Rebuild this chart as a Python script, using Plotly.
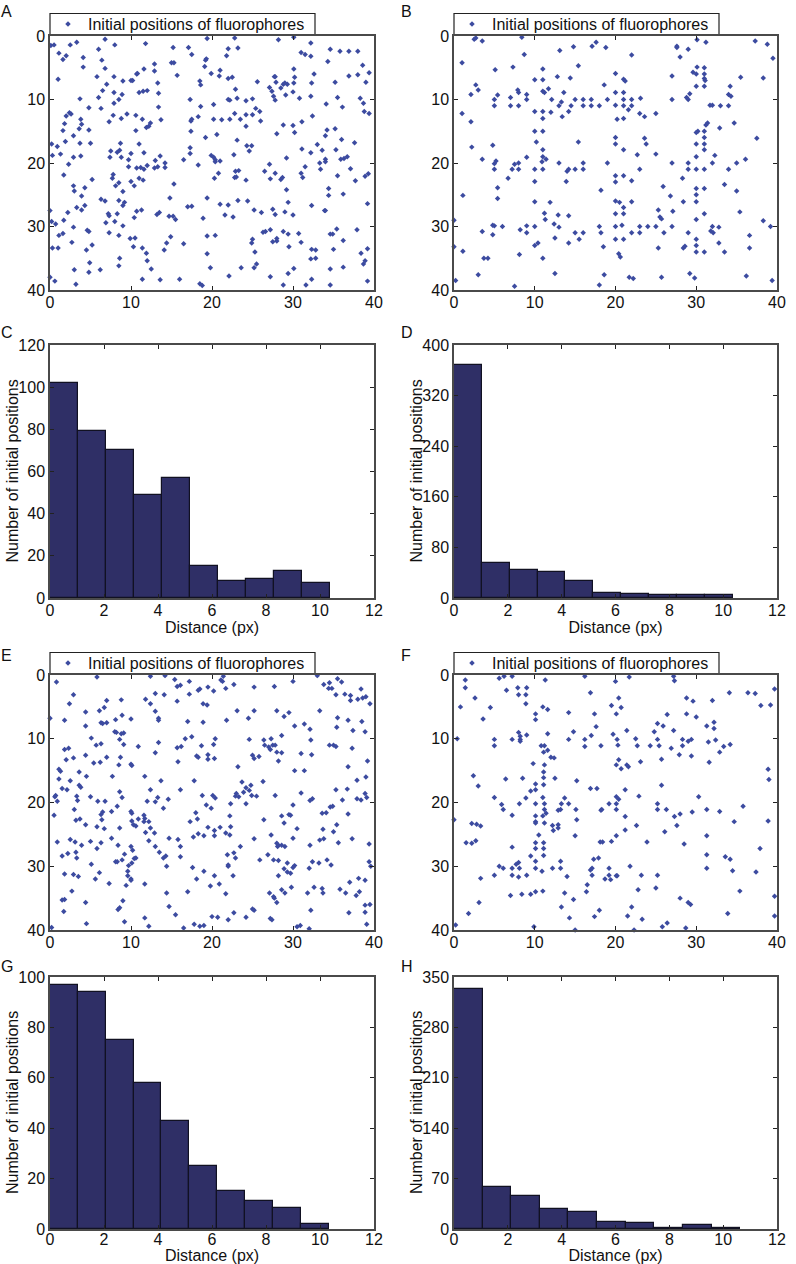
import plotly.graph_objects as go

# fluorophore positions, (x, y) in px
points_a = [(0.1,1.5),(0.5,1.4),(1.1,2.7),(1.6,3.7),(2.0,3.1),(2.5,1.4),(3.3,1.0),(4.1,3.4),(4.1,4.9),(6.0,2.1),(6.4,3.8),(6.8,0.5),(8.0,1.4),(11.8,1.2),(12.9,4.4),(15.0,4.2),(15.3,4.2),(15.2,1.8),(17.1,1.8),(17.5,2.9),(19.4,0.4),(19.3,3.6),(19.2,3.8),(19.1,4.8),(21.8,3.1),(22.0,2.0),(22.8,0.3),(23.2,1.9),(28.2,0.6),(30.1,0.2),(31.0,2.6),(31.5,2.9),(32.2,1.1),(32.2,3.2),(34.3,4.0),(34.6,2.1),(35.8,2.4),(36.9,2.4),(38.0,2.4),(38.6,4.6),
    (1.0,6.8),(5.8,6.4),(6.8,5.1),(7.0,7.6),(6.5,8.6),(6.0,9.7),(7.9,6.4),(7.9,8.9),(8.5,10.0),(8.9,9.2),(9.0,7.1),(10.0,7.0),(10.2,7.0),(10.7,6.0),(10.8,5.9),(11.0,8.9),(11.5,8.7),(11.6,5.2),(12.0,8.6),(12.9,5.5),(13.3,7.4),(13.4,9.0),(15.7,6.2),(18.5,7.1),(18.6,7.7),(17.3,10.0),(19.9,5.9),(21.0,5.4),(20.9,6.3),(22.0,6.7),(22.5,6.5),(22.9,8.4),(23.1,9.8),(22.0,10.0),(22.2,10.1),(24.2,10.2),(25.0,9.9),(25.6,7.2),(27.1,8.1),(27.4,8.7),(27.6,9.5),(27.8,10.1),(27.7,6.4),(27.8,6.4),(27.9,7.3),(28.5,8.2),(28.8,7.6),(29.0,7.4),(29.3,7.6),(29.1,9.3),(30.0,8.8),(30.1,7.4),(30.2,6.5),(30.1,5.2),(30.8,9.8),(32.3,7.4),(32.2,9.5),(32.6,6.0),(35.2,7.3),(35.5,9.7),(36.9,6.3),(38.0,6.1),(38.3,9.8),(38.7,10.6),(39.0,7.3),(39.4,5.8),
    (3.7,9.9),(6.3,11.4),(4.8,11.3),(7.9,10.6),(2.0,12.6),(2.4,12.1),(2.6,12.3),(1.8,13.8),(1.6,14.9),(3.8,13.1),(3.9,13.9),(3.6,14.6),(4.8,14.8),(7.3,13.5),(7.8,12.5),(8.8,13.0),(9.5,12.3),(10.6,12.5),(10.6,14.9),(11.4,13.1),(11.9,14.4),(12.2,14.2),(12.4,13.7),(13.4,11.2),(13.7,13.2),(17.4,13.4),(17.5,13.1),(17.4,15.0),(18.3,12.7),(18.6,11.1),(20.2,10.8),(20.2,13.1),(21.2,13.2),(22.2,13.1),(22.8,12.2),(23.5,13.1),(24.2,12.4),(25.0,12.4),(25.4,11.4),(25.9,11.9),(26.0,13.4),(24.2,14.2),(28.0,15.4),(28.8,14.0),(30.0,14.1),(30.2,15.2),(31.1,13.5),(32.4,12.6),(34.1,10.7),(34.2,14.8),(34.0,15.7),(35.2,14.6),(36.1,11.2),(38.8,11.9),(39.4,12.2),(20.6,15.5),
    (1.9,16.6),(2.9,15.7),(0.2,17.0),(0.9,17.4),(3.7,16.9),(5.0,16.9),(0.3,18.8),(1.3,18.6),(2.9,19.1),(3.8,18.9),(7.4,19.1),(7.5,18.1),(8.3,18.3),(8.6,18.0),(8.7,16.9),(8.8,19.1),(9.7,19.5),(9.7,20.6),(10.0,18.5),(11.0,17.0),(11.6,18.4),(13.0,19.6),(13.6,18.9),(14.2,20.0),(14.2,20.7),(16.5,19.5),(17.3,17.6),(17.3,18.5),(19.2,16.0),(19.9,18.8),(20.2,19.1),(20.4,19.5),(20.4,19.8),(21.0,19.7),(23.1,16.4),(22.7,18.7),(24.3,17.3),(24.6,18.1),(24.9,17.3),(29.2,19.2),(31.1,17.8),(32.2,18.4),(33.0,17.1),(33.6,18.0),(34.0,19.4),(34.0,19.8),(33.3,20.0),(35.3,17.9),(36.0,16.3),(35.9,19.4),(36.3,19.3),(36.7,19.0),(37.6,16.8),
    (1.7,21.9),(2.3,20.2),(2.9,23.6),(3.0,24.4),(4.3,23.9),(5.2,22.6),(3.9,25.2),(7.8,21.8),(7.7,22.4),(8.1,23.6),(8.5,23.1),(9.0,24.5),(10.0,22.9),(10.7,20.8),(11.2,20.7),(11.6,21.0),(12.0,20.4),(12.9,20.8),(13.3,20.6),(11.0,22.4),(11.5,22.7),(10.4,23.6),(15.3,23.3),(18.3,20.3),(20.3,22.4),(20.8,21.6),(22.8,22.3),(23.0,22.2),(22.9,21.3),(23.3,21.2),(24.2,22.7),(26.5,21.3),(27.1,20.2),(27.2,22.5),(27.8,21.6),(28.5,22.6),(28.7,22.3),(29.2,24.2),(31.0,21.6),(31.2,22.3),(31.5,20.6),(33.4,21.0),(34.4,24.0),(35.5,22.0),(37.1,20.9),(37.7,22.8),(38.9,22.1),(39.3,21.7),
    (0.0,27.5),(0.2,29.2),(0.7,29.6),(1.7,29.0),(2.2,27.8),(3.3,27.0),(3.9,27.4),(4.3,26.7),(2.9,30.1),(6.3,25.7),(6.8,26.0),(6.9,29.4),(7.2,28.0),(7.3,28.3),(8.0,29.2),(8.3,28.0),(8.5,25.9),(9.0,26.7),(9.2,26.2),(9.0,29.9),(10.4,28.6),(10.7,27.6),(11.3,27.4),(13.2,28.1),(13.5,27.8),(14.8,25.5),(14.7,28.4),(15.2,28.4),(15.5,28.9),(17.0,26.9),(17.5,26.8),(18.9,28.7),(19.4,25.5),(21.0,26.5),(21.6,28.2),(22.0,26.6),(22.6,28.5),(23.2,25.9),(24.4,26.0),(25.2,27.4),(26.1,27.8),(27.5,27.3),(27.8,28.1),(29.0,27.7),(29.4,26.2),(30.0,28.2),(32.3,26.7),(33.9,27.5),(34.0,27.5),(34.4,25.1),(36.2,24.9),(39.2,26.4),
    (1.1,31.4),(1.6,31.1),(2.7,32.5),(4.6,30.6),(4.8,30.8),(4.5,33.7),(5.2,32.9),(0.3,33.4),(1.0,33.4),(7.3,31.0),(8.5,31.4),(8.6,35.0),(9.9,31.9),(10.3,33.2),(10.5,31.8),(11.4,33.4),(11.9,34.2),(14.1,33.7),(14.4,32.6),(14.9,31.6),(16.5,32.7),(19.4,31.5),(19.4,34.3),(20.4,31.4),(25.0,32.0),(24.9,32.6),(25.3,34.0),(26.3,30.9),(26.6,30.8),(27.2,30.5),(27.5,32.4),(28.0,32.3),(28.0,31.9),(28.8,30.8),(29.4,31.2),(29.5,33.2),(30.7,31.1),(31.0,32.5),(32.3,33.6),(32.2,35.1),(32.8,33.7),(32.8,35.0),(34.6,31.2),(34.9,31.2),(35.4,30.4),(35.0,33.6),(36.2,32.2),(37.9,30.5),(38.4,34.2),(39.2,33.5),
    (0.0,38.0),(0.6,38.6),(3.0,36.8),(3.2,39.1),(4.9,35.7),(4.8,37.2),(6.2,36.8),(8.5,36.2),(11.4,38.3),(12.0,35.4),(12.5,36.7),(13.6,38.4),(16.0,38.3),(18.5,39.0),(18.8,39.3),(19.8,36.5),(22.1,37.8),(23.6,36.5),(25.2,36.5),(25.5,35.9),(27.2,37.9),(28.8,39.2),(29.4,37.4),(30.1,36.6),(31.6,39.2),(32.3,38.3),(34.6,36.7),(34.6,39.2),(36.2,36.4),(38.7,35.9),(38.9,35.4),(39.2,38.6)]

points_b = [(2.5,0.5),(2.7,0.3),(3.5,0.8),(8.4,0.2),(8.7,2.9),(1.0,4.2),(5.1,5.3),(7.3,4.9),(13.1,2.3),(14.8,1.7),(15.4,4.7),(17.1,1.6),(17.6,1.0),(18.8,1.8),(22.0,3.0),(27.6,1.6),(27.6,1.8),(28.0,3.3),(29.0,2.1),(30.1,0.6),(31.2,1.0),(37.3,0.8),(38.8,1.3),(39.5,3.5),
    (2.7,7.7),(3.0,8.5),(2.1,9.2),(5.0,10),(5.4,9.3),(5,11),(7,9.7),(7,11),(7.9,8.5),(8,8.9),(8,11),(9,9.2),(9,10),(10,6.9),(11,5.2),(11,6.9),(11,8.7),(11.2,8.9),(11.7,8.3),(12.8,6.4),(14.4,6.6),(12.1,10),(13,11),(13.3,10.4),(13.6,8.9),(15,10),(14.5,11),(16,10),(16,11),(17,10),(17,11),(18,11),(18.6,7.7),(19,10),(20,5.9),(20,8.9),(20,10.9),(21,6.8),(21.2,7.1),(21,8.9),(21,10),(21,11),(22,10),(22,11),(21.6,11.6),(23.1,9.8),(27,6.3),(27,10),(28.8,9.7),(29,10),(29.2,9.1),(29.6,5.7),(30,6),(30.1,4.9),(31,5),(31,6),(31,6.7),(31.1,7),(30,7.9),(31,7.9),(34.2,7.9),(35.5,6.5),(34,9.2),(34.3,9.5),(38.3,6.6),(32,10.9),(31.7,10.9),(33,11),(34,11),
    (10,11.9),(11,11.9),(11,13),(12,12),(13.4,12.7),(14.2,11.9),(1.0,12.2),(2.1,13.5),(20.2,13.1),(21,13),(23,12.2),(23.6,12.7),(25,12.2),(31.2,14),(31.4,13.7),(32.9,14.5),(34.7,13.7),(10,15),(11,15),(10.2,16.7),(15.4,16.7),(20,16),(20,17),(21,17.9),(23.6,16.1),(23.8,17),(30.2,15),(30,15.2),(31,15),(31,16),(31,17),(31,17.9),(30,17),(37.5,16.1),
    (2.2,17.5),(4.8,17.2),(11,17.9),(11,19),(11.4,19.4),(10.9,19.8),(9,19.1),(3.5,19.4),(5,20.1),(5.2,19.7),(5,21),(7.5,20.2),(8,20),(7.2,21),(8,21),(10,21),(11,21),(13,20),(14,21.3),(14.2,21),(15,21),(16,20),(16,21),(19,20),(22.7,18.7),(25,18.6),(23,21),(27,20),(30,19),(29,20),(29,21),(30,21),(31,21),(32,20),(32.3,18.8),(34,21),(35,20),(36.1,19.4),
    (6.7,22.4),(10,22.9),(13.9,22.9),(20,22),(20,23),(21,22),(22,22.8),(5.4,23.9),(1.1,25.1),(5.4,25.6),(28.3,22.4),(25.9,23.7),(31,24),(30,24),(30,25),(33.5,23.4),(35,24.4),(26.8,25.2),
    (10,26.1),(11.9,26.2),(18.2,24.3),(20,26),(20.5,26.2),(21,27),(22,26.1),(28.4,26.1),(30,26.1),(27.1,27.6),(25.3,27.4),(35.4,27.7),(20,28),(21,28),(11.2,27.9),(12.9,28.2),(14.2,28.3),(31,28),
    (0,29),(11.3,28.9),(12.4,29.6),(13,30.1),(4.8,29.8),(5,29.9),(6,30),(9,29.9),(10,30),(3.5,30.8),(8.2,30.5),(4.8,31.3),(9,31),(18,30),(20,30),(20.8,29.8),(23,30),(24,30),(25,30),(25.5,28.5),(25.7,28.8),(27,30),(30,28.9),(32,30),(32.8,30.1),(39.2,30),(38.3,29.1),(31.8,30.7),(32.1,31),(36.6,31.4),
    (15,31),(16,31),(15.5,32),(18.2,31),(20,32),(21,32),(22,31),(23,31),(26,31),(29,31),(30,32),(12.5,31.8),(14.2,32.6),(10.4,32.6),(10,33),(0,33.2),(1.1,33.9),(18.5,33.2),(25.3,33.4),(28.4,33.4),(28.6,33.1),(30,33),(30,34),(31,34),(32.8,32.6),(33.5,34),(36.6,33.4),(8.1,34.4),(3.7,35),(4.2,35),(11,35),(20.4,34.3),(20.6,34.8),
    (3,37.6),(12.5,37.4),(18.6,37.6),(21.7,38),(22.2,38.2),(25.7,38),(29.2,37.4),(29.8,38.1),(36.2,37.8),(0.2,38.5),(39.4,38.5),(7.5,39.4),(18,39.2)]

points_e = [(0.8,1.1),(2.9,3.1),(2.4,4.5),(5.8,0.3),(12.4,0.2),(14.2,0.1),(13.0,2.9),(14.1,3.1),(11.8,3.8),(12.4,4.5),(15.4,0.7),(15.7,1.8),(16.1,1.6),(17.2,1.0),(17.2,3.0),(15.7,4.1),(18.3,2.4),(18.5,2.2),(19.5,1.9),(20.2,2.5),(21.1,0.8),(21.3,1.0),(21.4,0.2),(21.7,2.1),(22.7,1.5),(18.9,4.5),(19.4,4.7),(25.2,1.9),(27.7,1.8),(30.0,1.0),(33.0,0.1),(33.8,1.5),(34.5,1.2),(34.4,2.1),(34.8,2.1),(35.3,3.1),(35.5,0.6),(36.0,1.1),(36.4,3.0),(37.1,3.2),(37.1,4.0),(38.0,3.8),(38.4,2.2),(38.6,3.6),(39.0,3.4),(39.5,4.5),
    (0,6.8),(1.8,7.1),(4.4,5.8),(4.4,8.0),(6.1,5.6),(6.3,7.5),(6.5,7.6),(6.7,5.1),(7.0,7.5),(7.0,4.0),(8.1,7.0),(8.8,3.9),(8.9,6.3),(10.0,6.9),(13.0,5.7),(13.4,6.8),(13.4,7.1),(8.0,8.9),(8.2,9.0),(8.8,9.2),(9.1,9.1),(21.8,7.1),(17.0,7.3),(18.9,7.4),(23.1,5.6),(25.2,5.6),(24.5,6.8),(28.0,5.6),(28.9,6.5),(29.5,5.9),(30.2,8.0),(31.4,7.7),(32.1,8.5),(33.3,5.6),(35.5,6.7),(35.4,8.2),(36.8,7.1),(37.4,8.7),(38.5,7.3),(38.9,8.9),
    (5.1,9.9),(5.7,11.0),(6.3,10.8),(8.6,10.1),(9.1,10.9),(10.9,11.2),(1.8,11.7),(2.3,11.5),(2.0,13.3),(2.9,13.0),(4.4,12.6),(5.4,13.8),(6.2,13.7),(7.0,12.9),(8.7,12.9),(8.5,14.1),(10.0,14.0),(10.1,14.2),(13.0,12.2),(13.4,10.6),(15.7,11.4),(16.2,11.2),(16.7,10.0),(17.5,9.7),(15.8,13.6),(18.1,12.7),(18.3,12.9),(18.7,11.1),(19.5,12.5),(19.5,13.2),(20.2,10.9),(20.4,10.0),(20.3,13.1),(24.6,10.1),(25.0,12.6),(25.2,13.1),(25.8,12.8),(23.2,14.4),(26.4,10.2),(26.5,11.0),(27.0,11.3),(27.2,11.7),(27.3,10.0),(27.5,11.0),(27.8,11.0),(28.0,12.1),(28.6,12.2),(28.2,13.5),(28.6,9.5),(31.0,12.3),(32.2,10.2),(32.3,12.5),(34.5,11.0),(35.0,11.0),(35.3,11.2),(37.3,11.5),(36.8,14.4),(39.2,13.5),
    (1.1,14.8),(1.3,15.1),(1.1,16.3),(2.5,16.6),(3.6,15.2),(4.5,15.9),(3.6,17.3),(3.8,17.6),(1.5,17.8),(2.1,18.0),(0.7,18.9),(0.6,19.1),(0.9,19.8),(0.5,22.0),(3.3,19.0),(3.4,19.7),(3.0,21.1),(5.0,19.1),(5.9,19.8),(6.8,19.8),(7.7,15.9),(8.3,20.6),(8.6,18.3),(8.9,19.2),(11.7,15.9),(12.0,19.8),(12.4,18.0),(13.0,19.9),(13.3,19.2),(13.7,16.6),(14.0,20.9),(14.6,19.5),(16.1,18.0),(17.8,16.6),(18.8,18.9),(19.3,20.4),(19.9,20.9),(20.1,18.9),(20.4,19.3),(23.0,18.6),(22.9,19.0),(23.3,19.1),(23.7,16.8),(23.9,18.4),(24.2,17.7),(24.6,18.1),(24.8,17.3),(24.9,18.9),(25.5,19.0),(26.3,16.7),(22.3,20.2),(24.2,20.2),(30.2,15.0),(31.4,15.0),(30.0,20.4),(31.0,18.5),(32.1,19.7),(32.4,19.4),(27.8,18.9),(35.3,18.0),(36.1,19.6),(36.7,17.9),(37.9,16.5),(37.9,19.4),(38.4,19.6),(38.9,18.6),(39.1,19.2),(39.0,16.0),(34.6,20.7),(34.9,20.6),
    (3.2,22.8),(3.7,22.6),(4.4,23.5),(6.3,21.9),(6.5,21.5),(6.4,22.7),(6.7,24.1),(5.8,23.8),(7.6,21.4),(8.6,24.0),(10,21.4),(10.1,21.7),(10.1,22.9),(10.3,23.5),(10.6,23.7),(10.9,22.6),(11.6,22.0),(11.7,22.5),(11.6,23.0),(12.2,23.0),(11.8,24.7),(12.4,24.0),(12.9,24.8),(18.0,21.6),(18.2,22.6),(17.3,23.0),(18.3,24.9),(19.5,23.9),(17.7,25.4),(19.0,25.2),(20.3,24.4),(20.3,25.2),(21.0,23.9),(21.7,24.8),(22.2,25.1),(22.2,22.1),(22.3,23.8),(26.4,22.7),(28.6,22.1),(29.5,21.9),(29.7,22.0),(28.9,23.2),(30.5,24.1),(33.6,21.7),(34.1,21.6),(33.7,24.2),(35.0,24.6),(35.4,23.5),(36.8,21.8),
    (5.0,26.1),(7.6,25.6),(6.3,26.3),(5.8,27.2),(2.5,25.8),(0.9,26.2),(3.1,26.2),(3.9,26.7),(1.5,28.4),(2.2,28.0),(3.2,27.8),(3.3,28.7),(8.4,26.7),(10.0,26.9),(10.2,27.5),(12.2,26.0),(13.0,26.9),(13.5,27.8),(14.0,28.7),(14.3,28.4),(14.7,25.6),(15.8,25.8),(16.1,26.9),(16.1,28.5),(9.2,28.1),(10.4,28.8),(10.6,28.7),(21.9,28.2),(22.7,27.9),(22.9,28.7),(23.5,26.9),(25.2,25.7),(25.9,29.0),(26.9,28.2),(27.3,25.1),(28.0,26.4),(28.1,26.9),(28.2,26.7),(28.6,26.7),(29.0,26.9),(30.0,25.6),(32.1,26.7),(33.3,25.9),(33.8,25.7),(35.6,26.3),(37.3,25.7),(39.4,26.5),
    (8.1,29.3),(8.3,29.3),(8.9,29.0),(9.7,29.9),(10.1,29.5),(5.1,29.7),(14.4,30.0),(17.6,30.2),(22.0,29.8),(22.0,30.0),(27.6,29.0),(28.2,29.1),(28.9,30.4),(29.3,29.5),(30.2,29.9),(30.0,30.2),(29.3,30.9),(29.7,31.1),(32.0,30.3),(32.4,29.3),(33.2,29.5),(34.2,29.0),(34.7,29.8),(39.4,29.3),(39.6,30.0),
    (9.6,30.8),(9.6,31.5),(10.0,32.0),(10.0,32.2),(9.4,33.0),(5.6,32.0),(6.1,31.0),(1.8,31.2),(2.9,31.3),(3.5,31.6),(2.7,33.9),(7.3,32.7),(11.7,32.8),(18.1,32.0),(19.0,30.8),(19.8,33.1),(20.3,31.5),(20.9,32.8),(22.6,31.5),(28.2,31.5),(28.6,33.7),(29.0,34.2),(29.8,33.3),(32.6,33.3),(33.6,33.5),(33.7,34.2),(31.8,34.2),(35.8,33.6),(36.5,34.2),(37.0,32.5),(38.1,31.9),(38.9,32.2),(38.2,34.0),(37.8,34.6),(14.4,34.2),(17.0,34.0),(21.7,34.3),(27.1,34.2),(27.6,34.8),(27.7,35.0),(28.0,35.7),
    (4.4,35.7),(1.5,35.3),(1.8,35.2),(1.7,37.1),(9.0,35.4),(8.4,36.8),(8.6,36.5),(14.7,36.3),(15.5,37.6),(25.0,36.7),(25.2,36.9),(22.7,37.3),(32.2,36.9),(36.9,37.3),(38.9,36.1),(39.5,36.0),(38.9,37.2),(9.2,38.7),(4.5,39.0),(11.7,38.1),(17.8,39.1),(18.5,39.4),(19.0,39.3),(20.0,37.9),(20.7,38.0),(22.0,38.4),(24.2,38.0),(27.2,38.2),(27.4,38.4),(30.5,39.5),(30.9,39.3),(0.2,39.6),(12.2,39.4),(16.5,39.7),(32.0,39.8),(39.1,39.1)]

points_f = [(5.6,0.5),(6.2,0.2),(7.2,0.2),(1.4,0.8),(1.4,2.0),(2.6,3.6),(0.8,5.0),(4.5,5.1),(6.5,2.4),(7.9,2.0),(8.0,3.1),(8.9,3.1),(9.0,2.0),(8.9,4.5),(11.3,0.8),(16.2,0.2),(20.0,1.0),(21.7,0.3),(16.9,2.8),(20.4,3.6),(19.5,4.8),(20.7,5.1),(27.2,0.2),(27.3,0.9),(28.8,3.6),(29.6,4.1),(32.0,4.0),(34.1,2.8),(36.4,2.8),(37.3,2.9),(38.0,4.8),(39.2,4.7),(39.7,2.2),
    (11.0,5.0),(11.6,5.4),(10.1,6.1),(10.1,7.0),(3.6,6.9),(14.2,5.9),(17.4,6.1),(20.1,6.1),(17.6,8.1),(21.4,8.7),(14.8,8.9),(19.7,9.3),(26.4,6.2),(28.8,6.1),(30.0,6.6),(25.2,7.6),(25.9,8.0),(24.8,8.9),(27.2,8.7),(31.3,8.0),(32.2,7.4),(32.2,8.4),
    (0.4,10),(5.0,10.1),(5.0,11.1),(7.2,10.1),(8.0,9.0),(8.2,9.6),(8.2,10.1),(8.2,10.4),(9.0,9.4),(11.6,9.2),(14.2,10.1),(16.2,10.1),(16.2,11.2),(17.0,9.5),(18.2,11.1),(20.2,10.1),(20.3,11.0),(22.5,10.0),(22.7,11.1),(24.3,11.1),(25.2,10.1),(25.4,11.1),(26.9,11.5),(28.3,10.1),(28.3,11.1),(29.0,10.4),(29.4,10.1),(31.5,10.5),(32.4,10.2),(33.4,11.2),(32.9,12.1),(34.2,10.9),
    (10.8,11.1),(11.2,11.1),(11.1,12.1),(11.6,11.8),(12.0,12.9),(12.4,13.0),(9.8,13.9),(11.2,14.1),(11.1,15.2),(11.1,16.1),(11.1,17.2),(20.4,13.3),(20.1,14.1),(20.7,14.7),(21.4,14.1),(21.6,14.4),(23.1,13.6),(25.7,13.2),(27.9,12.5),(29.4,12.7),(31.6,13.7),(38.9,14.8),(39.0,16.4),(2.4,15.8),(6.4,16.3),(8.5,16.2),(12.5,16.2),(15.2,16.6),(3.0,17.4),(10.1,17.1),(25.7,17.3),
    (10.1,18),(9.5,18.2),(16.9,17.8),(17.7,17.8),(21.2,18.0),(5.0,19.2),(8.9,19.3),(11.0,19.2),(13.7,19.3),(20.1,19.1),(20.4,19.5),(22.9,19.0),(30.3,19.1),(5.9,20.3),(8.1,20.2),(10.1,20.2),(11.2,20.2),(13.3,20.2),(14.2,20.2),(19.2,20.2),(20.1,20.2),(25.2,20.2),(35.8,20.6),
    (6.1,21.1),(11.2,21.1),(12.9,21.2),(13.2,21.1),(15.1,21.1),(18.2,21.2),(18.3,21.1),(20.1,21.1),(25.2,21.1),(26.3,21.1),(29.5,21.5),(31.3,21.1),(32.9,21.4),(7.2,22.0),(10.1,22.1),(11.0,22.1),(11.4,21.7),(11.2,23.2),(10.1,23.0),(10.1,23.2),(15.2,22.7),(21.2,22.2),(27.3,22.2),(28.0,21.8),(0,22.7),(2.2,23.3),(2.8,23.4),(3.3,23.7),(12.2,23.6),(12.9,23.5),(12.9,24.0),(12.3,24.4),(21.2,24.3),(22.6,23.6),(27.6,23.6),(26.1,24.6),(34.7,23.0),(38.9,22.9),
    (10.5,25.1),(15.0,25.2),(20.1,25.2),(31.3,25.2),(1.5,26.3),(2.2,26.4),(2.7,26.0),(10.1,26.3),(11.1,26.3),(18.1,26.2),(18.4,26.2),(19.5,26.1),(23.9,26.2),(28.5,26.5),(7.2,27.0),(10.1,27.2),(11.1,27.2),(37.9,27.2),(9.5,28.4),(11.1,28.3),(31.3,28.2),(33.6,28.5),(34.2,28.9),
    (10.1,29.2),(13.2,29.2),(5.6,30.0),(6.1,30.3),(7.2,30.3),(7.7,29.7),(8.0,29.4),(8.1,30.3),(10.1,30.3),(12.2,30.3),(13.2,30.3),(17.3,28.9),(17.9,28.7),(16.9,30.6),(17.1,30.3),(19.2,30.3),(21.8,30.0),(31.3,30.3),(10.9,30.8),(34.5,30.7),(37.4,30.9),
    (5.0,31.4),(3.3,31.9),(7.2,31.4),(8.0,31.7),(9.0,31.4),(14.0,31.6),(17.1,31.4),(18.7,32.0),(19.2,31.4),(19.4,32.1),(20.1,31.5),(20.2,31.5),(23.2,31.4),(25.2,31.4),(16.5,32.9),(22.8,33.7),(25.0,33.4),(9.5,34.4),(8.4,34.4),(7.0,34.6),(10.1,34.0),(11.0,33.9),(13.7,34.2),(16.4,34.0),(14.8,35.2),(28.0,35.0),(35.4,33.9),(39.7,34.7),(3.1,35.7),(13.3,36.4),(18.0,36.9),(22.0,36.4),(29.0,35.7),(29.3,36.0),(1.8,37.4),(14.3,38.1),(17.4,37.9),(21.5,37.8),(23.3,38.3),(33.9,37.4),(39.7,37.8),(0.2,39.2),(9.9,39.5),(15.0,40),(22.3,40),(25.8,39.5),(26.4,38.9),(28.7,39.7)]

# histograms: bin counts and the right end of the last bin
counts_c = [102, 79, 70, 49, 57, 15, 8, 9, 13, 7]
counts_d = [369, 56, 44, 41, 27, 8, 7, 5.5, 5.5, 4]
counts_g = [97, 94, 75, 58, 43, 25, 15, 11, 8.3, 2]
counts_h = [333, 58, 46, 28, 24, 10, 9, 2, 5, 2]
hist_end_c = 10.36
hist_end_d = 10.35
hist_end_g = 10.32
hist_end_h = 10.63

scatter_ticks = [0, 10, 20, 30, 40]
distance_ticks = [0, 2, 4, 6, 8, 10, 12]
yticks_c = [0, 20, 40, 60, 80, 100, 120]
yticks_d = [0, 80, 160, 240, 320, 400]
yticks_g = [0, 20, 40, 60, 80, 100]
yticks_h = [0, 70, 140, 210, 280, 350]

W = 796
H = 1264
FONT = "Liberation Sans"
FRAME = "#4a4a4a"
DOT = "#3c4ba0"
BAR = "#2f2f66"
TEXT = "#111111"
SIZE = 16

fig = go.Figure()


def x_domain(left, right):
    return [left / W, right / W]


def y_domain(top, bottom):
    return [1 - bottom / H, 1 - top / H]


def axis_style(ticks):
    return dict(tickvals=ticks, ticks="inside", ticklen=4, tickwidth=1, tickcolor="#222222",
                showline=True, mirror="allticks", linecolor=FRAME, linewidth=1.5, showgrid=False,
                zeroline=False, tickfont=dict(family=FONT, size=SIZE, color=TEXT))


def add_scatter(n, points, left, right, top, bottom, legend):
    xs = [p[0] for p in points]
    ys = [p[1] for p in points]
    fig.add_trace(go.Scatter(x=xs, y=ys, mode="markers", name="Initial positions of fluorophores",
                             marker=dict(symbol="diamond", size=4.2, color=DOT), legend=legend,
                             xaxis="x%d" % n, yaxis="y%d" % n, cliponaxis=False))
    fig.layout["xaxis%d" % n] = dict(domain=x_domain(left, right), range=[0, 40], anchor="y%d" % n,
                                     ticklabelstandoff=-3, **axis_style(scatter_ticks))
    fig.layout["yaxis%d" % n] = dict(domain=y_domain(top, bottom), range=[40, 0], anchor="x%d" % n,
                                     **axis_style(scatter_ticks))
    # plotly's own legend box is too tall for this font, so the box is a shape behind a borderless legend
    box_bottom = top - 1.5
    box_top = box_bottom - 21
    fig.add_shape(type="rect", xref="paper", yref="paper", layer="below",
                  x0=left / W, x1=(left + 265) / W, y0=1 - box_bottom / H, y1=1 - box_top / H,
                  line=dict(color="#222222", width=1.2), fillcolor="white")
    fig.layout[legend] = dict(x=(left - 2) / W, y=1 - (box_top + box_bottom) / 2 / H, xanchor="left",
                              yanchor="middle", bgcolor="rgba(0,0,0,0)", borderwidth=0,
                              font=dict(family=FONT, size=SIZE, color=TEXT),
                              itemwidth=30, tracegroupgap=0)


def add_hist(n, counts, hist_end, yticks, left, right, top, bottom, title_gap, tick_shift):
    width = hist_end / len(counts)
    edges = [width * i for i in range(len(counts))]
    fig.add_trace(go.Bar(x=edges, y=counts, width=width, offset=0, showlegend=False,
                         marker=dict(color=BAR, line=dict(color="#111122", width=1.2)),
                         xaxis="x%d" % n, yaxis="y%d" % n))
    fig.layout["xaxis%d" % n] = dict(domain=x_domain(left, right), range=[0, 12], anchor="y%d" % n,
                                     ticklabelstandoff=tick_shift,
                                     title=dict(text="Distance (px)", standoff=title_gap,
                                                font=dict(family=FONT, size=SIZE, color=TEXT)),
                                     **axis_style(distance_ticks))
    fig.layout["yaxis%d" % n] = dict(domain=y_domain(top, bottom), range=[0, yticks[-1]], anchor="x%d" % n,
                                     **axis_style(yticks))
    # y title sits at the same distance from the frame in every panel, whatever the tick label width
    fig.add_annotation(text="Number of initial positions", textangle=-90, xref="paper", yref="paper",
                       x=(left - 38) / W, y=1 - (top + bottom) / 2 / H, xanchor="center", yanchor="middle",
                       showarrow=False, font=dict(family=FONT, size=SIZE, color=TEXT))


add_scatter(1, points_a, 50, 374, 36, 290, "legend")
add_scatter(2, points_b, 454, 777, 36, 290, "legend2")
add_hist(3, counts_c, hist_end_c, yticks_c, 50, 374, 345, 598, 2, -3)
add_hist(4, counts_d, hist_end_d, yticks_d, 454, 777, 345, 598, 2, -3)
add_scatter(5, points_e, 50, 374, 675, 930, "legend3")
add_scatter(6, points_f, 454, 777, 675, 930, "legend4")
add_hist(7, counts_g, hist_end_g, yticks_g, 50, 374, 977, 1229, 3, -5)
add_hist(8, counts_h, hist_end_h, yticks_h, 454, 777, 977, 1229, 3, -5)

panel_labels = ["A", "B", "C", "D", "E", "F", "G", "H"]
label_x = [-1, 399, -1, 399, -1, 399, -1, 399]
label_y = [11, 11, 333, 333, 655, 655, 966, 966]
for text, lx, ly in zip(panel_labels, label_x, label_y):
    fig.add_annotation(text=text, x=lx / W, y=1 - ly / H, xref="paper", yref="paper", showarrow=False,
                       xanchor="left", yanchor="middle", font=dict(family=FONT, size=SIZE, color=TEXT))

fig.update_layout(width=W, height=H, margin=dict(l=0, r=0, t=0, b=0, autoexpand=False), plot_bgcolor="white",
                  paper_bgcolor="white", bargap=0, showlegend=True)

fig.write_html("out.html", config={"displayModeBar": False}, post_script="document.body.style.margin='0';")
